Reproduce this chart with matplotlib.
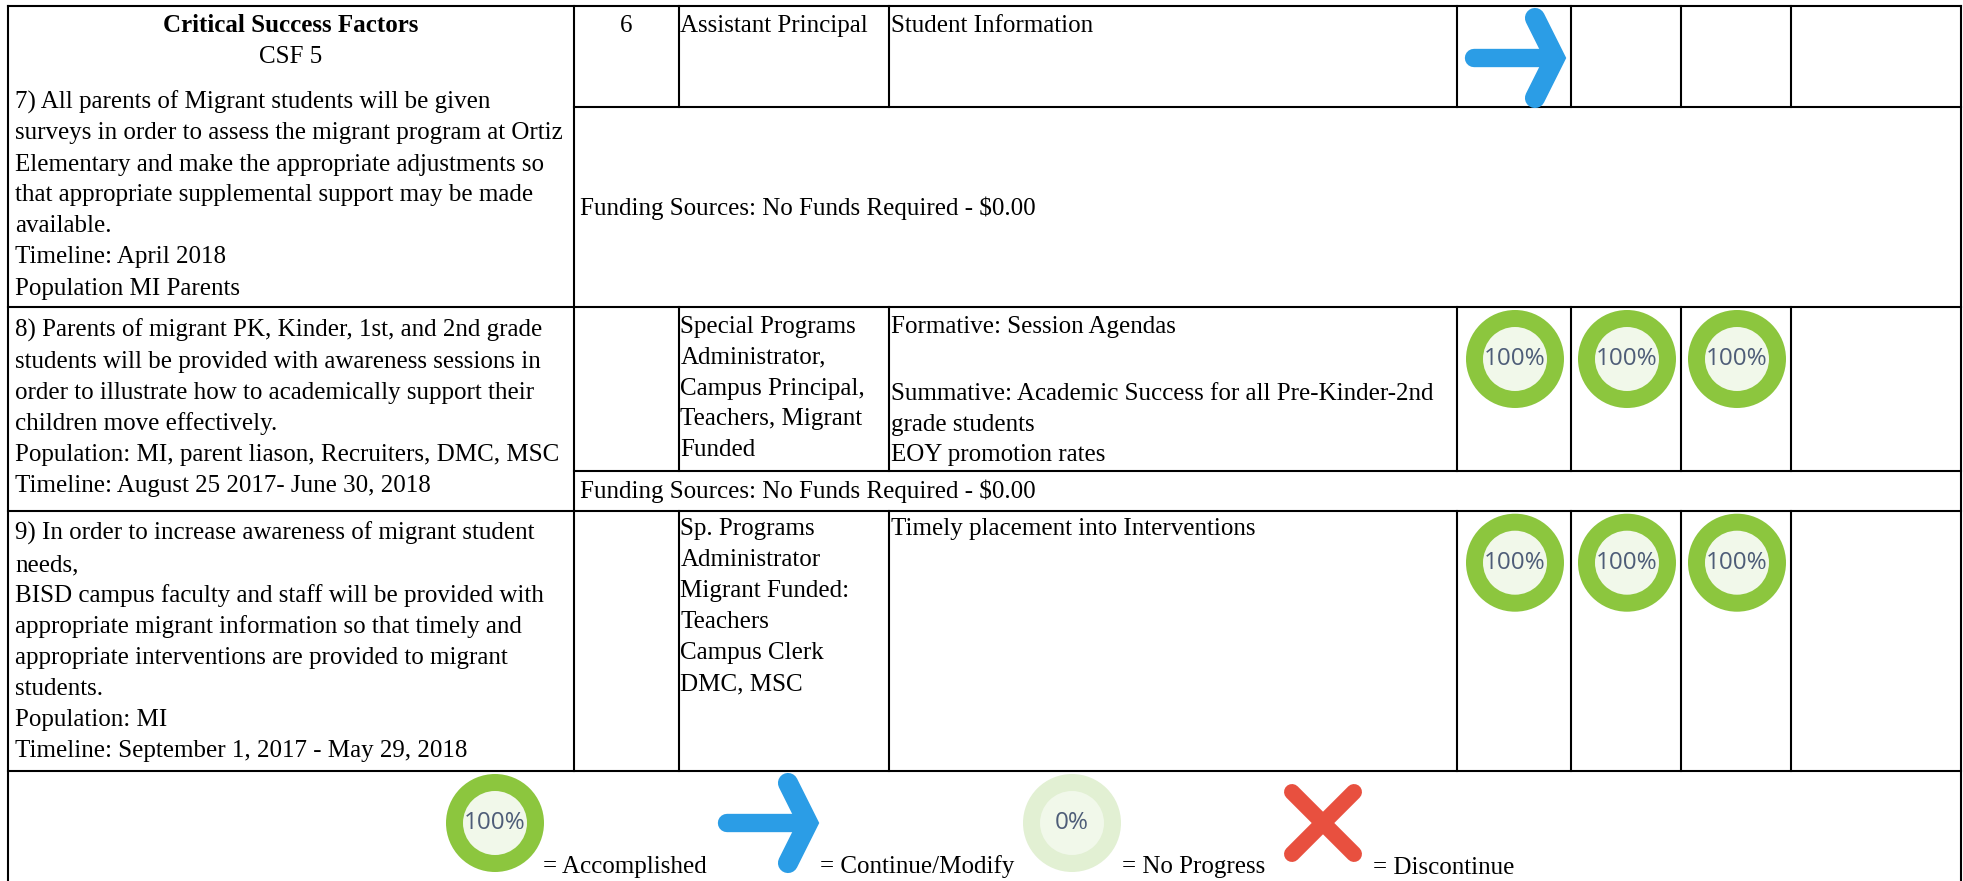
import matplotlib
matplotlib.use('Agg')
import matplotlib.pyplot as plt
from matplotlib.patches import Circle

plt.rcParams['font.family'] = ['Liberation Serif', 'DejaVu Serif']

# table text
csf_title = 'Critical Success Factors'
csf_sub = 'CSF 5'
factor_text = [
    ['7) All parents of Migrant students will be given',
     'surveys in order to assess the migrant program at Ortiz',
     'Elementary and make the appropriate adjustments so',
     'that appropriate supplemental support may be made',
     'available.',
     'Timeline: April 2018',
     'Population MI Parents'],
    ['8) Parents of migrant PK, Kinder, 1st, and 2nd grade',
     'students will be provided with awareness sessions in',
     'order to illustrate how to academically support their',
     'children move effectively.',
     'Population: MI, parent liason, Recruiters, DMC, MSC',
     'Timeline: August 25 2017- June 30, 2018'],
    ['9) In order to increase awareness of migrant student',
     'needs,',
     'BISD campus faculty and staff will be provided with',
     'appropriate migrant information so that timely and',
     'appropriate interventions are provided to migrant',
     'students.',
     'Population: MI',
     'Timeline: September 1, 2017 - May 29, 2018'],
]
numbers = ['6', '', '']
staff = [
    ['Assistant Principal'],
    ['Special Programs', 'Administrator,', 'Campus Principal,', 'Teachers, Migrant', 'Funded'],
    ['Sp. Programs', 'Administrator', 'Migrant Funded:', 'Teachers', 'Campus Clerk', 'DMC, MSC'],
]
evidence = [
    ['Student Information'],
    ['Formative: Session Agendas', '', 'Summative: Academic Success for all Pre-Kinder-2nd',
     'grade students', 'EOY promotion rates'],
    ['Timely placement into Interventions'],
]
status = [
    ['continue', None, None],
    ['100', '100', '100'],
    ['100', '100', '100'],
]
funding = 'Funding Sources: No Funds Required - $0.00'
legend_kinds = ['100', 'continue', '0', 'stop']
legend_labels = ['= Accomplished', '= Continue/Modify', '= No Progress', '= Discontinue']

# layout, in pixels of the picture
col_edges = [8, 574, 678.5, 888.5, 1457, 1571, 1681, 1791, 1961]
row_edges = [6, 107, 307, 470.5, 510.7, 771]
factor_base = [108.5, 337, 540]
body_base = [32, 332.5, 535]
funding_base = [215, 498]
legend_icon_x = [495, 768, 1072, 1323]
legend_label_x = [543, 820, 1122, 1373]
legend_icon_y = 823
legend_base = 873.5
step = 31
fs = 18

GREEN = '#8cc63e'
BLUE = '#2b9de6'
RED = '#e8503f'


def ring(ax, x, y, pct):
    outer = GREEN if pct == '100' else '#e2f0d3'
    ax.add_patch(Circle((x, y), 49, fc=outer, ec='none', zorder=3))
    ax.add_patch(Circle((x, y), 32, fc='#f1f8ea', ec='none', zorder=4))
    ax.text(x, y, pct + '%', family='Open Sans', fontsize=17.5, color='#4e5d78',
            ha='center', va='center', zorder=5)


def arrow(ax, x, y):
    kw = dict(color=BLUE, solid_capstyle='round', solid_joinstyle='miter', zorder=3)
    ax.plot([x - 41, x + 30], [y, y], lw=13.2, **kw)
    ax.plot([x + 20, x + 40, x + 20], [y - 40, y, y + 40], lw=14.5, **kw)


def cross(ax, x, y):
    kw = dict(color=RED, lw=11.5, solid_capstyle='round', zorder=3)
    ax.plot([x - 31, x + 31], [y - 31, y + 31], **kw)
    ax.plot([x - 31, x + 31], [y + 31, y - 31], **kw)


def icon(ax, kind, x, y):
    if kind == 'continue':
        arrow(ax, x, y)
    elif kind == 'stop':
        cross(ax, x, y)
    elif kind is not None:
        ring(ax, x, y, kind)


def write_lines(ax, x, y, lines):
    for line in lines:
        if line == '':
            # blank line in the cell sits a bit taller than a text line
            y += step + 5
            continue
        ax.text(x, y, line, fontsize=fs, ha='left', va='baseline', color='k')
        y += step


fig = plt.figure(figsize=(19.63, 8.81), dpi=100)
ax = fig.add_axes([0, 0, 1, 1])
ax.set_xlim(0, 1963)
ax.set_ylim(881, 0)
ax.axis('off')

# grid lines
line_kw = dict(color='k', lw=1.5, solid_capstyle='projecting')
for i, y in enumerate(row_edges):
    # the first column spans the row and funding lines of CSF 5, and the funding line of 8)
    start = col_edges[1] if i in (1, 3) else col_edges[0]
    ax.plot([start, col_edges[-1]], [y, y], **line_kw)
ax.plot([col_edges[0], col_edges[0]], [row_edges[0], 881], **line_kw)
ax.plot([col_edges[-1], col_edges[-1]], [row_edges[0], 881], **line_kw)
ax.plot([col_edges[1], col_edges[1]], [row_edges[0], row_edges[-1]], **line_kw)
for x in col_edges[2:-1]:
    ax.plot([x, x], [row_edges[0], row_edges[1]], **line_kw)
    ax.plot([x, x], [row_edges[2], row_edges[3]], **line_kw)
    ax.plot([x, x], [row_edges[4], row_edges[5]], **line_kw)

# left column
mid_left = (col_edges[0] + col_edges[1]) / 2
ax.text(mid_left, 32, csf_title, fontsize=fs, weight='bold', ha='center', va='baseline')
ax.text(mid_left, 63, csf_sub, fontsize=fs, ha='center', va='baseline')
for lines, base in zip(factor_text, factor_base):
    write_lines(ax, 15, base, lines)

# row cells
icon_tops = [row_edges[0], row_edges[2], row_edges[4]]
for r in range(3):
    ax.text((col_edges[1] + col_edges[2]) / 2, body_base[r], numbers[r], fontsize=fs,
            ha='center', va='baseline')
    write_lines(ax, col_edges[2] + 2, body_base[r], staff[r])
    write_lines(ax, col_edges[3] + 2.5, body_base[r], evidence[r])
    for c, kind in enumerate(status[r]):
        x = (col_edges[4 + c] + col_edges[5 + c]) / 2
        icon(ax, kind, x + 1, icon_tops[r] + 52)

for base in funding_base:
    ax.text(col_edges[1] + 6, base, funding, fontsize=fs, ha='left', va='baseline')

# legend strip
for kind, label, ix, lx in zip(legend_kinds, legend_labels, legend_icon_x, legend_label_x):
    icon(ax, kind, ix, legend_icon_y)
    ax.text(lx, legend_base, label, fontsize=fs, ha='left', va='baseline')

fig.savefig('out.png', dpi=100, facecolor='w')
